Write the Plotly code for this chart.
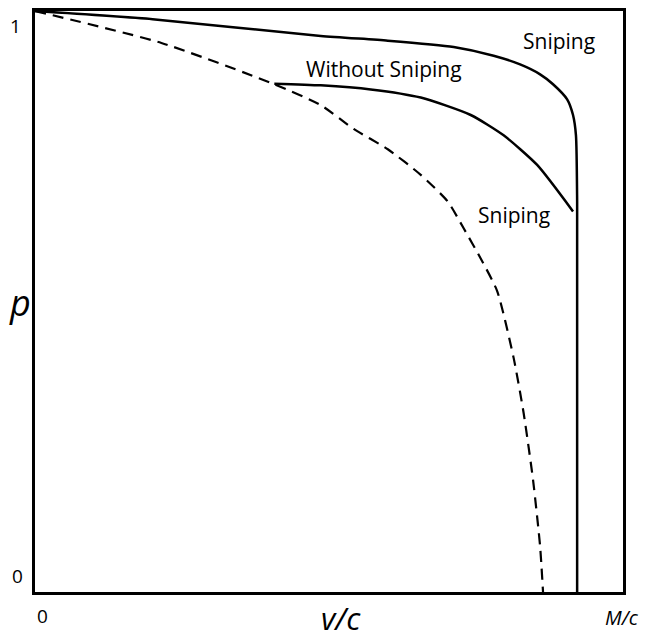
import plotly.graph_objects as go

# Data (x = v/c scaled to M/c = 1, y = p)
snip_x = [0.0, 0.20, 0.486, 0.600, 0.712, 0.780, 0.825, 0.859, 0.881, 0.905, 0.915, 0.920, 0.922, 0.922]
snip_y = [1.0, 0.986, 0.957, 0.949, 0.938, 0.923, 0.908, 0.891, 0.874, 0.848, 0.821, 0.786, 0.672, 0.0]

nosnip_x = [0.407, 0.486, 0.571, 0.656, 0.741, 0.797, 0.854, 0.915]
nosnip_y = [0.875, 0.872, 0.865, 0.851, 0.821, 0.786, 0.735, 0.655]

dash_x = [0.0, 0.215, 0.407, 0.486, 0.542, 0.600, 0.656, 0.702, 0.729, 0.758,
          0.786, 0.814, 0.831, 0.847, 0.859, 0.864]
dash_y = [1.0, 0.945, 0.874, 0.838, 0.797, 0.762, 0.718, 0.672, 0.626, 0.574,
          0.518, 0.403, 0.308, 0.193, 0.079, 0.0]

ytick_labels = ["0", "1"]
xtick_labels = ["0", "M/c"]
curve_labels = ["Sniping", "Without Sniping", "Sniping"]

fig = go.Figure()
fig.add_trace(go.Scatter(x=snip_x, y=snip_y, mode="lines",
                         line=dict(color="black", width=2.5, shape="spline", smoothing=0.6)))
fig.add_trace(go.Scatter(x=nosnip_x, y=nosnip_y, mode="lines",
                         line=dict(color="black", width=2.5, shape="spline", smoothing=0.6)))
fig.add_trace(go.Scatter(x=dash_x, y=dash_y, mode="lines",
                         line=dict(color="black", width=2.2, dash="11px,7px", shape="spline", smoothing=0.6)))

def ann(x, y, text, size, italic=False):
    fig.add_annotation(x=x, y=y, xref="paper", yref="paper",
                       xanchor="center", yanchor="middle",
                       text=("<i>%s</i>" % text) if italic else text,
                       showarrow=False, font=dict(family="Open Sans", size=size, color="black"))

ann(0.892, 0.949, curve_labels[0], 21)
ann(0.593, 0.901, curve_labels[1], 21)
ann(0.815, 0.649, curve_labels[2], 21)

ann(-0.029, 0.028, ytick_labels[0], 19)
ann(-0.034, 0.974, ytick_labels[1], 19)
ann(0.0136, -0.041, xtick_labels[0], 19)
ann(0.998, -0.044, xtick_labels[1], 20, italic=True)
ann(0.520, -0.044, "v/c", 31, italic=True)
ann(-0.026, 0.498, "p", 36, italic=True)

fig.update_xaxes(range=[0, 1], showgrid=False, zeroline=False, showticklabels=False,
                 showline=True, mirror=True, linecolor="black", linewidth=3, ticks="")
fig.update_yaxes(range=[0, 1.0], showgrid=False, zeroline=False, showticklabels=False,
                 showline=True, mirror=True, linecolor="black", linewidth=3, ticks="")
fig.update_layout(width=648, height=643, margin=dict(l=27, r=33, t=0, b=59),
                  plot_bgcolor="white", paper_bgcolor="white", showlegend=False)

fig.write_html("out.html")
